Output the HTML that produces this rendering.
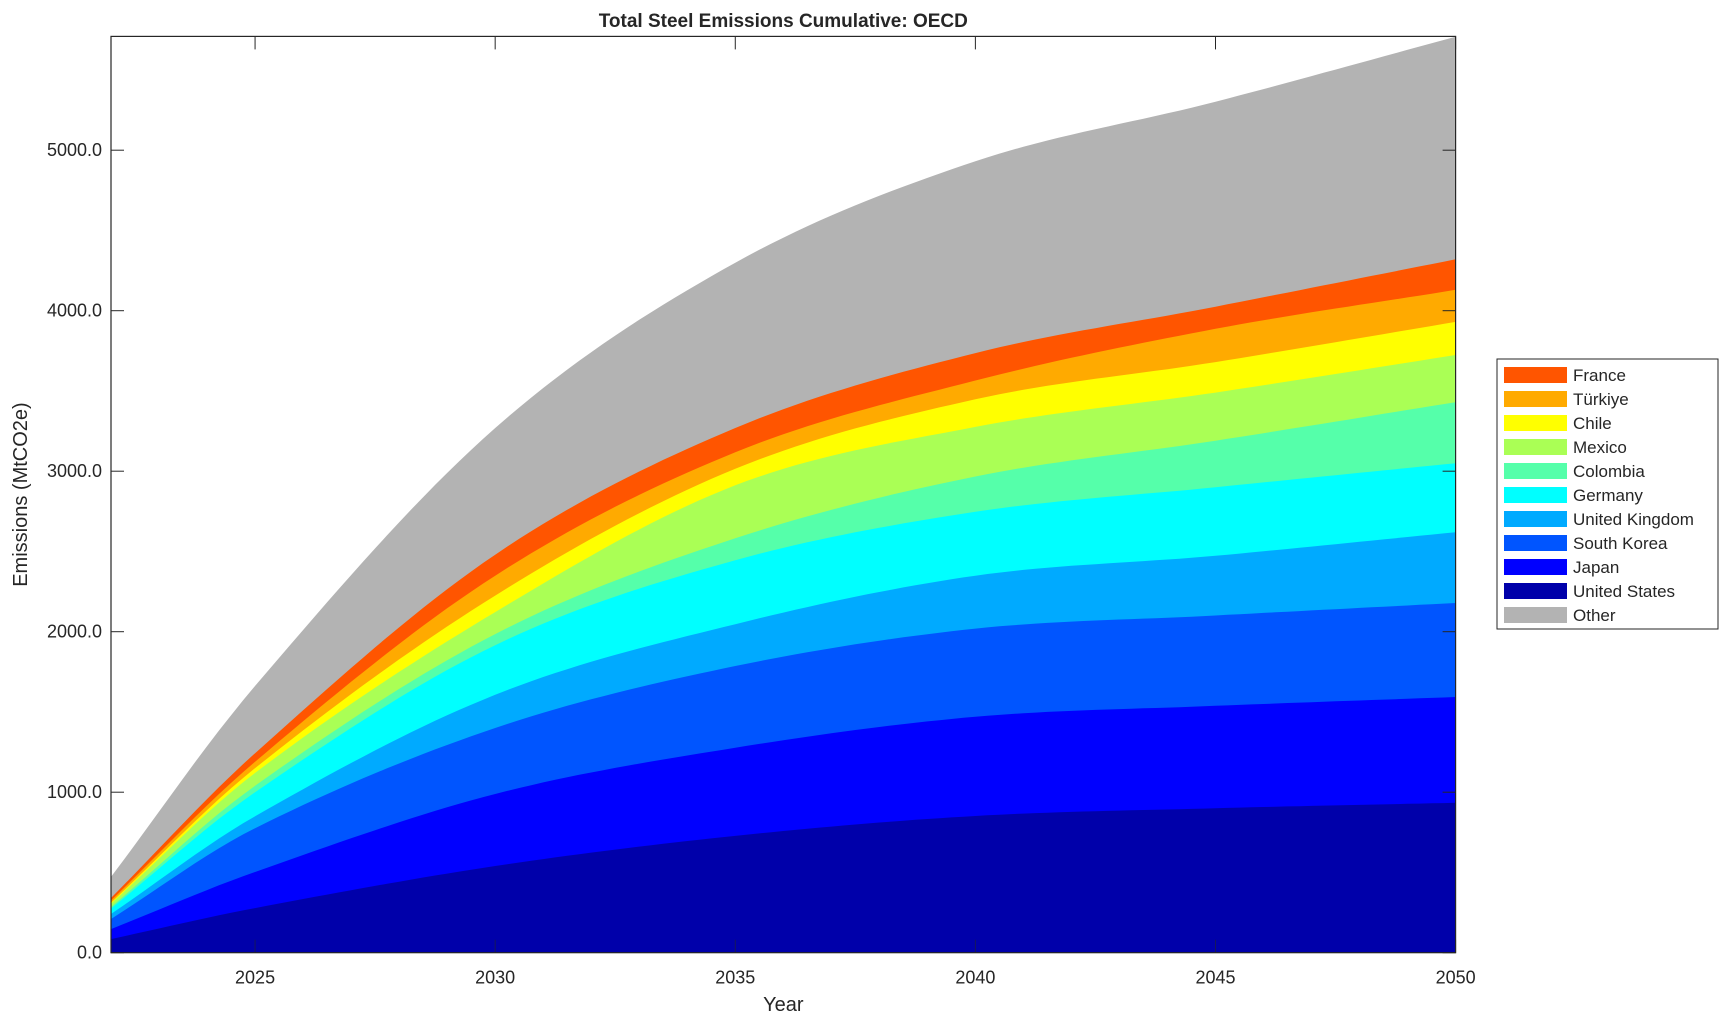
<!DOCTYPE html>
<html><head><meta charset="utf-8"><style>
body{margin:0;background:#fff;}
svg text{font-family:"Liberation Sans",Arial,sans-serif;fill:#262626;}
</style></head><body>
<svg id="s" width="1729" height="1021" xmlns="http://www.w3.org/2000/svg"></svg>
<script>
const L=111,R=1455.6,T=36.4,B=952.7,YMAX=5709;
const X=y=>L+(y-2022)*(R-L)/28, Y=v=>B-v*(B-T)/YMAX;
const yrs=[2022,2025,2030,2035,2040,2045,2050];
const layers=[
["Other","#b3b3b3",[472,1662,3269,4299,4931,5302,5707]],
["France","#ff5500",[341,1243,2480,3269,3736,4025,4320]],
["Türkiye","#ffaa00",[325,1190,2349,3118,3565,3887,4130]],
["Chile","#ffff00",[312,1150,2225,3015,3448,3680,3930]],
["Mexico","#aaff55",[305,1120,2122,2912,3276,3490,3724]],
["Colombia","#55ffaa",[285,1040,1985,2582,2967,3190,3430]],
["Germany","#00ffff",[275,1000,1916,2445,2747,2900,3050]],
["United Kingdom","#00aaff",[241,850,1607,2047,2349,2473,2620]],
["South Korea","#0055ff",[210,776,1400,1786,2019,2101,2179]],
["Japan","#0000ff",[147,503,989,1277,1470,1538,1593]],
["United States","#0000aa",[85,278,540,728,852,900,934]]];
function interp(v,t){let i=0;while(i<yrs.length-2&&t>yrs[i+1])i++;
 const p0=v[Math.max(i-1,0)],p1=v[i],p2=v[i+1],p3=v[Math.min(i+2,v.length-1)];
 const t0=yrs[Math.max(i-1,0)],t1=yrs[i],t2=yrs[i+1],t3=yrs[Math.min(i+2,v.length-1)];
 const h=t2-t1,u=(t-t1)/h;
 const m1=(p2-p0)/(t2-t0)*h, m2=(p3-p1)/(t3-t1)*h;
 const u2=u*u,u3=u2*u;
 return (2*u3-3*u2+1)*p1+(u3-2*u2+u)*m1+(-2*u3+3*u2)*p2+(u3-u2)*m2;}
let h='';
for(const [n,c,v] of layers){let d=`M${X(2022)},${B}`;
 for(let t=2022;t<=2050.001;t+=0.25)d+=` L${X(t).toFixed(1)},${Y(interp(v,t)).toFixed(1)}`;
 d+=` L${R},${B}Z`;h+=`<path d="${d}" fill="${c}"/>`;}
h+=`<rect x="${L}" y="${T}" width="${R-L}" height="${B-T}" fill="none" stroke="#262626" stroke-width="1.2"/>`;
for(let y=2025;y<=2050;y+=5){const x=X(y);
 h+=`<line x1="${x}" y1="${B}" x2="${x}" y2="${B-13}" stroke="#262626" stroke-opacity=".6"/><line x1="${x}" y1="${T}" x2="${x}" y2="${T+13}" stroke="#262626"/>`;
 h+=`<text x="${x}" y="${B+31}" font-size="18" text-anchor="middle">${y}</text>`;}
for(let v=0;v<=5000;v+=1000){const y=Y(v);
 h+=`<line x1="${L}" y1="${y}" x2="${L+13}" y2="${y}" stroke="#262626"/><line x1="${R}" y1="${y}" x2="${R-13}" y2="${y}" stroke="#262626"/>`;
 h+=`<text x="${L-9}" y="${y+6}" font-size="18" text-anchor="end">${v.toFixed(1)}</text>`;}
h+=`<text x="${(L+R)/2}" y="27" font-size="19" font-weight="bold" text-anchor="middle" fill="#000">Total Steel Emissions Cumulative: OECD</text>`;
h+=`<text x="${(L+R)/2}" y="1011" font-size="20" text-anchor="middle">Year</text>`;
h+=`<text transform="translate(27,${(T+B)/2}) rotate(-90)" font-size="20" text-anchor="middle">Emissions (MtCO2e)</text>`;
h+=`<rect x="1497" y="359" width="221" height="270" fill="#fff" stroke="#262626" stroke-width="1"/>`;
const leg=[...layers.slice(1),layers[0]];
leg.forEach(([n,c],i)=>{const y=367+i*24;
 h+=`<rect x="1504" y="${y}" width="63" height="16" fill="${c}"/><text x="1573" y="${y+14}" font-size="17">${n}</text>`;});
document.getElementById('s').innerHTML=h;
</script>
</body></html>
